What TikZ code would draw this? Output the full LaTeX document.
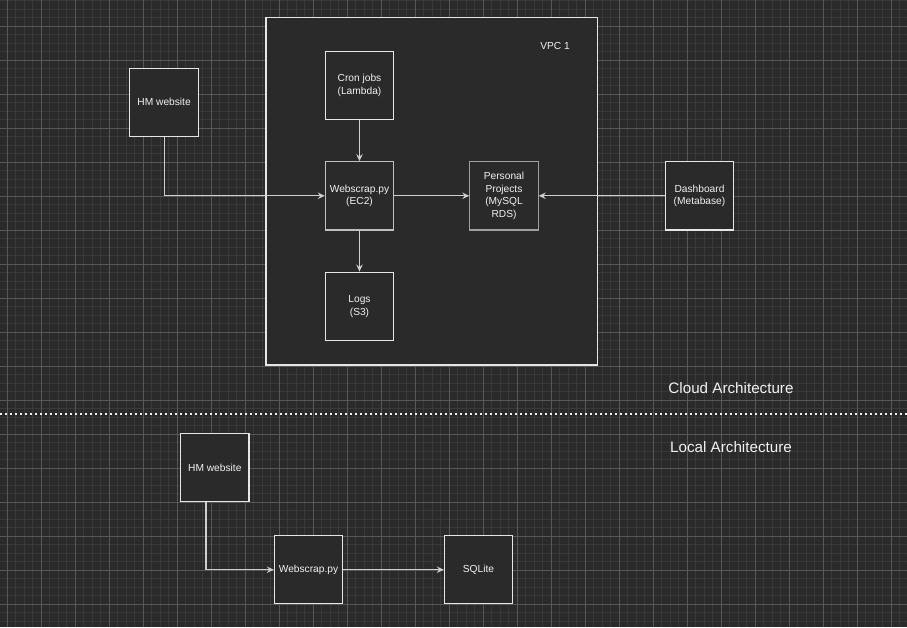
\documentclass[tikz,border=0pt]{standalone}
\usepackage{fontspec}
\setmainfont{Liberation Sans}
\usetikzlibrary{arrows.meta}

\definecolor{bgcol}{HTML}{2A2A2A}
\definecolor{minorcol}{HTML}{393939}
\definecolor{majorcol}{HTML}{575757}
\definecolor{boxline}{HTML}{E6E6E6}
\definecolor{boxgray}{HTML}{A0A0A0}
\definecolor{linkcol}{HTML}{CFCFCF}
\definecolor{txtcol}{HTML}{F2F2F2}

\tikzset{
  box/.style={draw=boxline, fill=bgcol, line width=1.1pt,
    minimum width=68.4pt, minimum height=68.4pt, inner sep=0pt,
    align=center, text=txtcol, font=\fontsize{10.2}{12.6}\selectfont},
  link/.style={draw=linkcol, line width=1.1pt,
    -{Stealth[length=7pt,width=6.5pt,inset=2.5pt]}},
  title/.style={text=txtcol, font=\fontsize{15.2}{18}\selectfont},
}

\begin{document}
\begin{tikzpicture}[x=1pt, y=-1pt]

  % background and grid
  \fill[bgcol] (0,0) rectangle (907,627);
  \useasboundingbox (0,0) rectangle (907,627);
  \clip (0,0) rectangle (907,627);
  \foreach \i in {-1,...,106}{
    \draw[minorcol, line width=0.9pt] ({7.3+8.5*\i},0) -- ++(0,627);
  }
  \foreach \j in {-3,...,70}{
    \draw[minorcol, line width=0.9pt] (0,{26.3+8.5*\j}) -- ++(907,0);
  }
  \foreach \i in {0,...,26}{
    \draw[majorcol, line width=1pt] ({7.3+34*\i},0) -- ++(0,627);
  }
  \foreach \j in {-1,...,17}{
    \draw[majorcol, line width=1pt] (0,{26.3+34*\j}) -- ++(907,0);
  }

  % cloud part
  \node[draw=boxline, fill=bgcol, line width=1.1pt, inner sep=0pt,
    minimum width=331.5pt, minimum height=347.7pt] (vpc) at (431.75,191.15) {};
  \node[text=txtcol, font=\fontsize{10.2}{12.6}\selectfont] (vpclabel) at (555,46) {VPC 1};

  \node[box] (hmcloud) at (164.1,102.3) {HM website};
  \node[box] (cron) at (359.5,85.3) {Cron jobs\\(Lambda)};
  \node[box, draw=boxline!80!bgcol] (ec2) at (359.5,195.8) {Webscrap.py\\(EC2)};
  \node[box, draw=boxgray] (rds) at (504,195.8) {Personal\\Projects\\(MySQL\\RDS)};
  \node[box] (dash) at (699.5,195.8) {Dashboard\\(Metabase)};
  \node[box] (logs) at (359.5,306.3) {Logs\\(S3)};

  \draw[link] (hmcloud.south) |- (ec2.west);
  \draw[link] (cron) -- (ec2);
  \draw[link] (ec2) -- (rds);
  \draw[link] (dash) -- (rds);
  \draw[link] (ec2) -- (logs);

  \node[title] (cloud) at (731,388) {Cloud Architecture};

  % separator
  \coordinate (sepleft) at (0,414);
  \coordinate (sepright) at (907,414);
  \draw[txtcol, line width=1.5pt, dash pattern=on 1.5pt off 3.5pt] (sepleft) -- (sepright);

  % local part
  \node[title] (local) at (731,447) {Local Architecture};

  \node[box] (hmlocal) at (214.8,467.5) {HM website};
  \node[box] (scrap) at (308.5,569.7) {Webscrap.py};
  \node[box] (sqlite) at (478.5,569.7) {SQLite};

  \draw[link] ([xshift=-8.8pt]hmlocal.south) |- (scrap.west);
  \draw[link] (scrap) -- (sqlite);

\end{tikzpicture}
\end{document}
